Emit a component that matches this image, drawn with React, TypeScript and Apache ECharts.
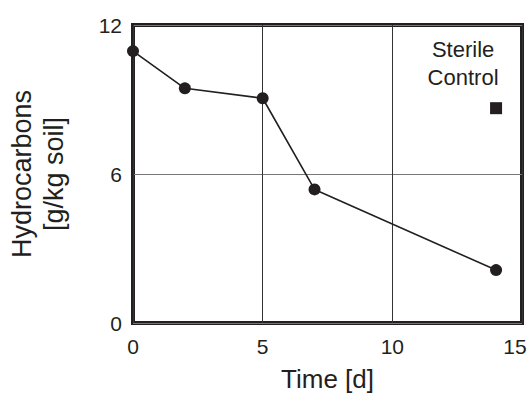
import React, { useEffect, useRef } from "react";
import * as echarts from "echarts";

const days = [0, 2, 5, 7, 14];
const hydrocarbons = [10.95, 9.45, 9.05, 5.38, 2.13];
const sterileControl = [[14, 8.65]];
const xTicks = [0, 5, 10, 15];
const yTicks = [0, 6, 12];

const FONT = "'Liberation Sans', Arial, Helvetica, sans-serif";
const INK = "#231f20";

export default function App() {
  const ref = useRef<HTMLDivElement>(null);
  useEffect(() => {
    if (!ref.current) return;
    const chart = echarts.init(ref.current, undefined, { renderer: "svg" });
    const xMax = xTicks[xTicks.length - 1];
    chart.setOption({
      animation: false,
      backgroundColor: "#ffffff",
      textStyle: { fontFamily: FONT, color: INK },
      grid: {
        left: 133,
        right: 8,
        top: 25,
        bottom: 72,
        containLabel: false,
        outerBoundsMode: "none",
        show: true,
        borderWidth: 4,
        borderColor: INK,
        backgroundColor: "transparent",
      },
      xAxis: {
        type: "value",
        min: xTicks[0],
        max: xMax,
        interval: 5,
        name: "Time [d]",
        nameLocation: "middle",
        nameGap: 42,
        nameMoveOverlap: false,
        nameTextStyle: { fontSize: 26, lineHeight: 28, color: INK, fontFamily: FONT },
        axisLine: { show: false },
        axisTick: { show: false },
        axisLabel: {
          fontSize: 21,
          color: INK,
          fontFamily: FONT,
          margin: 13,
          formatter: (v: number) => (v === xMax ? "{max|" + v + "}" : String(v)),
          rich: { max: { fontSize: 21, color: INK, fontFamily: FONT, padding: [0, 14, 0, 0] } },
        },
        splitLine: { show: true, lineStyle: { color: "#333", width: 1 } },
      },
      yAxis: {
        type: "value",
        min: yTicks[0],
        max: yTicks[yTicks.length - 1],
        interval: 6,
        name: "Hydrocarbons\n[g/kg soil]",
        nameLocation: "middle",
        nameGap: 63,
        nameRotate: 90,
        nameMoveOverlap: false,
        nameTextStyle: { fontSize: 27, lineHeight: 32, color: INK, fontFamily: FONT },
        axisLine: { show: false },
        axisTick: { show: false },
        axisLabel: {
          fontSize: 21,
          color: INK,
          fontFamily: FONT,
          margin: 11,
          padding: [0, 0, 10, 0],
        },
        splitLine: { show: true, lineStyle: { color: "#777", width: 1 } },
      },
      series: [
        {
          type: "line",
          data: days.map((d, i) => [d, hydrocarbons[i]]),
          symbol: "circle",
          symbolSize: 12,
          lineStyle: { color: INK, width: 1.6 },
          itemStyle: { color: INK, opacity: 1 },
          z: 5,
        },
        {
          type: "scatter",
          data: sterileControl,
          symbol: "rect",
          symbolSize: 12,
          itemStyle: { color: INK, opacity: 1 },
          label: {
            show: true,
            position: "top",
            formatter: "Sterile\nControl",
            fontSize: 22,
            lineHeight: 28,
            color: INK,
            fontFamily: FONT,
            align: "center",
            offset: [-33, -6],
          },
          z: 5,
        },
      ],
    });
    return () => chart.dispose();
  }, []);
  return <div ref={ref} style={{ width: 530, height: 395, position: "absolute", left: 0, top: 0 }} />;
}
